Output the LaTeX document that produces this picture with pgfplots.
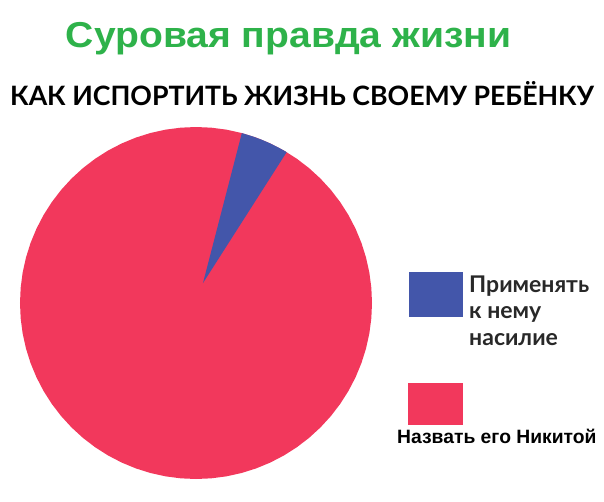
\documentclass[border=0pt]{standalone}
\usepackage{pgfplots}
\pgfplotsset{compat=1.18}
\usepgfplotslibrary{polar}
\usepackage{fontspec}
\setmainfont{Liberation Sans}
\newfontfamily\lato{Lato}
\definecolor{pieRed}{RGB}{242,56,92}
\definecolor{pieBlue}{RGB}{67,86,170}
\definecolor{titleGreen}{RGB}{46,178,74}
\definecolor{legendText}{RGB}{40,40,40}

\begin{document}
\begin{tikzpicture}[x=1pt,y=1pt]
\useasboundingbox (0,0) rectangle (604,501);

% headings
\node[anchor=base, text=titleGreen, font=\fontsize{36}{40}\selectfont\bfseries, inner sep=0pt]
  at (288.5,453) {\scalebox{1.085}[1]{Суровая правда жизни}};
\node[anchor=base, text=black, font=\lato\fontsize{26.7}{32}\selectfont\bfseries, inner sep=0pt]
  at (302,395) {КАК ИСПОРТИТЬ ЖИЗНЬ СВОЕМУ РЕБЁНКУ};

% pie: angle (deg), radius
\begin{polaraxis}[
  at={(196pt,198pt)}, anchor=center,
  scale only axis, width=352pt, height=352pt,
  hide axis, ymin=0, ymax=1, clip=false]
\addplot[fill=pieRed, draw=none] coordinates {
 (0,1) (5,1) (10,1) (15,1) (20,1) (25,1) (30,1) (35,1) (40,1) (45,1)
 (50,1) (55,1) (60,1) (65,1) (70,1) (75,1) (80,1) (85,1) (90,1) (95,1)
 (100,1) (105,1) (110,1) (115,1) (120,1) (125,1) (130,1) (135,1) (140,1) (145,1)
 (150,1) (155,1) (160,1) (165,1) (170,1) (175,1) (180,1) (185,1) (190,1) (195,1)
 (200,1) (205,1) (210,1) (215,1) (220,1) (225,1) (230,1) (235,1) (240,1) (245,1)
 (250,1) (255,1) (260,1) (265,1) (270,1) (275,1) (280,1) (285,1) (290,1) (295,1)
 (300,1) (305,1) (310,1) (315,1) (320,1) (325,1) (330,1) (335,1) (340,1) (345,1)
 (350,1) (355,1)} -- cycle;
\addplot[fill=pieBlue, draw=none] coordinates {
 (70.7,0.12) (59.0,1) (62,1) (65,1) (68,1) (71,1) (74.9,1)} -- cycle;
\end{polaraxis}

% legend
\fill[pieBlue] (409,184) rectangle (463,229);
\fill[pieRed] (408,76) rectangle (463,118);
\begin{scope}[every node/.style={anchor=base west, inner sep=0pt, text=legendText,
    font=\lato\fontsize{23}{27}\selectfont\bfseries}]
\node at (469,209) {Применять};
\node at (469,183) {к нему};
\node at (469,156) {насилие};
\end{scope}
\node[anchor=base west, inner sep=0pt, font=\fontsize{19.3}{23}\selectfont\bfseries]
  at (397,58) {Назвать его Никитой};
\end{tikzpicture}
\end{document}
